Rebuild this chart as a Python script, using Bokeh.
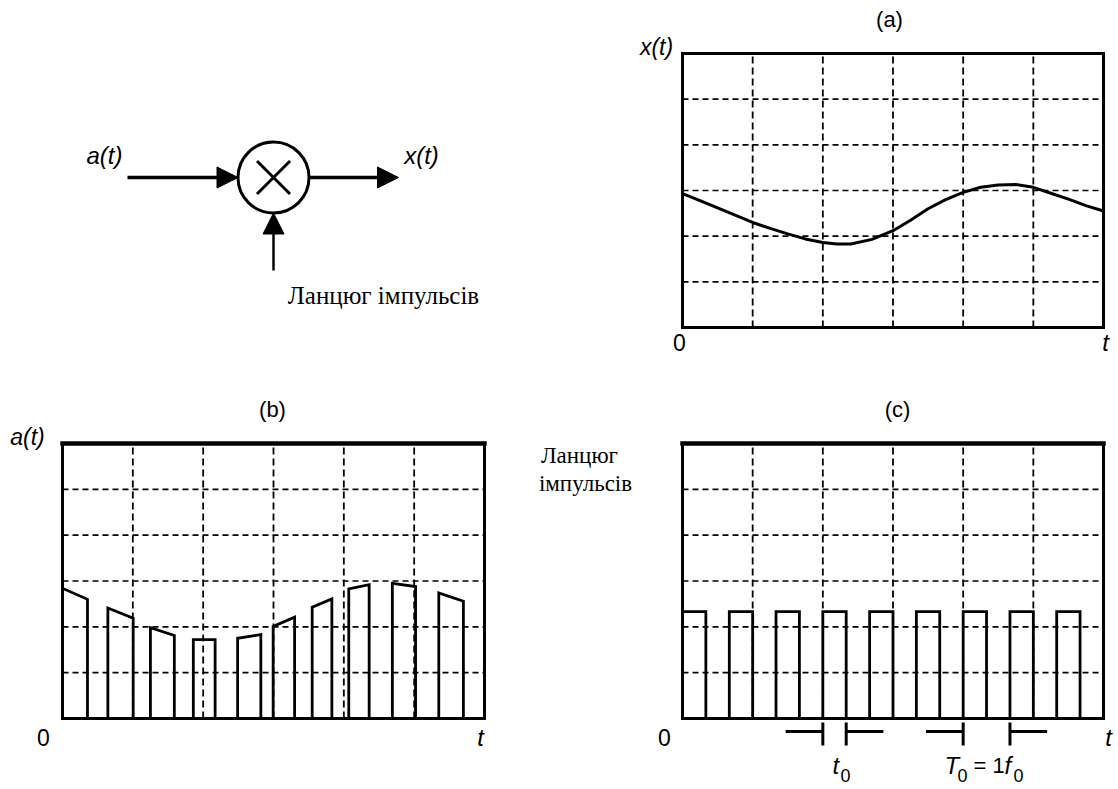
from bokeh.plotting import figure
from bokeh.layouts import row, column
from bokeh.models import Range1d, Arrow, NormalHead
from bokeh.core.properties import value
from bokeh.embed import file_html
from bokeh.resources import INLINE

# ---------------- data ----------------
grid_lines = [1, 2, 3, 4, 5]   # dashed grid positions, in grid units
axis_max = 6                   # every panel spans 6 x 6 grid units

# (a) continuous signal x(t)
a_t = [0, 0.25, 0.5, 0.75, 1, 1.25, 1.5, 1.75, 2, 2.2, 2.4, 2.7, 3, 3.25, 3.5,
       3.75, 4, 4.25, 4.5, 4.75, 5, 5.25, 5.5, 5.75, 6]
a_x = [2.93, 2.78, 2.62, 2.46, 2.30, 2.17, 2.05, 1.94, 1.86, 1.83, 1.83, 1.93,
       2.12, 2.35, 2.60, 2.80, 2.96, 3.07, 3.12, 3.13, 3.07, 2.94, 2.81, 2.67, 2.55]

# (b) sampled signal a(t): pulse edges and top values at both edges
b_start = [0, 0.645, 1.25, 1.86, 2.49, 2.995, 3.55, 4.07, 4.69, 5.35]
b_end = [0.355, 1.005, 1.59, 2.17, 2.82, 3.30, 3.83, 4.36, 5.02, 5.70]
b_top_start = [2.84, 2.41, 1.98, 1.72, 1.75, 2.01, 2.43, 2.83, 2.95, 2.74]
b_top_end = [2.60, 2.19, 1.81, 1.72, 1.83, 2.21, 2.61, 2.92, 2.88, 2.56]

# (c) pulse train
c_start = [0, 0.667, 1.333, 2.0, 2.667, 3.333, 4.0, 4.667, 5.333]
c_width = 0.333
c_height = 2.33

# markers for t0 (pulse width) and T0 = 1/f0 (period), in grid units
mark_t0 = [2.0, 2.333]
mark_T0 = [4.0, 4.667]
mark_arm = 0.53

# ---------------- layout (pixels of the 1118 x 789 page) ----------------
W_L, W_R = 520, 598
H_T, H_B = 390, 399
FRAME_A = (682, 53, 1103, 327)
FRAME_B = (62, 443, 484, 718)
FRAME_C = (682, 443, 1103, 718)

SANS = value("Liberation Sans")
SERIF = value("Liberation Serif")


def make_panel(frame, origin, size):
    l, t, r, b = frame
    ox, oy = origin
    w, h = size
    ux = (r - l) / axis_max
    uy = (b - t) / axis_max
    xr = Range1d((ox - l) / ux, (ox + w - l) / ux)
    yr = Range1d((b - (oy + h)) / uy, (b - oy) / uy)
    p = figure(width=w, height=h, x_range=xr, y_range=yr,
               x_axis_type=None, y_axis_type=None, toolbar_location=None,
               output_backend="svg", min_border=0, outline_line_color=None,
               background_fill_color="white", border_fill_color="white")

    def conv(px, py):
        return (px - l) / ux, (b - py) / uy
    return p, conv


def draw_grid(p):
    n = len(grid_lines)
    p.segment(x0=grid_lines, y0=[0] * n, x1=grid_lines, y1=[axis_max] * n,
              line_color="black", line_width=1.8, line_dash="7 4")
    p.segment(x0=[0] * n, y0=grid_lines, x1=[axis_max] * n, y1=grid_lines,
              line_color="black", line_width=1.7, line_dash="6 4")


def draw_frame(p, top_width):
    p.line(x=[0, 0, axis_max, axis_max], y=[axis_max, 0, 0, axis_max],
           line_color="black", line_width=3, line_join="miter")
    p.line(x=[0, axis_max], y=[axis_max, axis_max], line_color="black",
           line_width=top_width, line_cap="square")


def label(p, conv, px, py, txt, size="22px", style="normal", font=SANS,
          align="center"):
    x, y = conv(px, py)
    p.text(x=[x], y=[y], text=[txt], text_font=font, text_font_size=size,
           text_font_style=style, text_align=align, text_baseline="middle",
           text_color="black")


# ---------------- block diagram ----------------
diag = figure(width=W_L, height=H_T, x_range=Range1d(0, W_L),
              y_range=Range1d(H_T, 0), x_axis_type=None, y_axis_type=None,
              toolbar_location=None, output_backend="svg", min_border=0,
              outline_line_color=None)
node_x, node_y, node_r = 273, 177, 35.5
cross = 16.5
diag.circle(x=[node_x], y=[node_y], radius=node_r, fill_color=None,
            line_color="black", line_width=3)
diag.segment(x0=[node_x - cross, node_x - cross], y0=[node_y - cross, node_y + cross],
             x1=[node_x + cross, node_x + cross], y1=[node_y + cross, node_y - cross],
             line_color="black", line_width=3)
for (xs, ys, xe, ye, lw) in [(127, node_y, node_x - node_r, node_y, 3.5),
                             (node_x + node_r, node_y, 398, node_y, 3.5),
                             (node_x, 270, node_x, node_y + node_r, 2.5)]:
    diag.add_layout(Arrow(end=NormalHead(size=21, fill_color="black",
                                         line_color="black", line_width=1),
                          x_start=xs, y_start=ys, x_end=xe, y_end=ye,
                          line_color="black", line_width=lw))
diag.text(x=[104, 421], y=[155, 155], text=["a(t)", "x(t)"], text_font=SANS,
          text_font_size="24px", text_font_style="italic", text_align="center",
          text_baseline="middle")
diag.text(x=[383], y=[295], text=["Ланцюг імпульсів"], text_font=SERIF,
          text_font_size="25px", text_align="center", text_baseline="middle")

# ---------------- (a) x(t) ----------------
pa, ca = make_panel(FRAME_A, (W_L, 0), (W_R, H_T))
draw_grid(pa)
draw_frame(pa, 3)
pa.line(x=a_t, y=a_x, line_color="black", line_width=3)
label(pa, ca, 889, 19, "(a)")
label(pa, ca, 656, 46, "x(t)", size="23px", style="italic")
label(pa, ca, 679, 342, "0", size="23px")
label(pa, ca, 1105, 342, "t", size="24px", style="italic")

# ---------------- (b) a(t) ----------------
pb, cb = make_panel(FRAME_B, (0, H_T), (W_L, H_B))
draw_grid(pb)
pb.multi_line(xs=[[s, s, e, e] for s, e in zip(b_start, b_end)],
              ys=[[0, ts, te, 0] for ts, te in zip(b_top_start, b_top_end)],
              line_color="black", line_width=2.8, line_join="miter")
draw_frame(pb, 4.5)
label(pb, cb, 272, 409, "(b)")
label(pb, cb, 27, 436, "a(t)", size="23px", style="italic")
label(pb, cb, 43, 737, "0", size="23px")
label(pb, cb, 480, 737, "t", size="24px", style="italic")

# ---------------- (c) pulse train ----------------
pc, cc = make_panel(FRAME_C, (W_L, H_T), (W_R, H_B))
draw_grid(pc)
pc.multi_line(xs=[[s, s, s + c_width, s + c_width] for s in c_start],
              ys=[[0, c_height, c_height, 0] for _ in c_start],
              line_color="black", line_width=2.8, line_join="miter")
draw_frame(pc, 4.5)
label(pc, cc, 897, 409, "(c)")
label(pc, cc, 579, 455, "Ланцюг", size="23px", font=SERIF)
label(pc, cc, 585, 483, "імпульсів", size="23px", font=SERIF)
label(pc, cc, 664, 737, "0", size="23px")
label(pc, cc, 1108, 737, "t", size="24px", style="italic")

_, y_mid = cc(0, 731)
_, y_lo = cc(0, 745)
_, y_hi = cc(0, 722)
arm_x0, arm_x1, tick_x = [], [], []
for left, right in (mark_t0, mark_T0):
    arm_x0 += [left - mark_arm, right]
    arm_x1 += [left, right + mark_arm]
    tick_x += [left, right]
pc.segment(x0=arm_x0, y0=[y_mid] * 4, x1=arm_x1, y1=[y_mid] * 4,
           line_color="black", line_width=3)
pc.segment(x0=tick_x, y0=[y_lo] * 4, x1=tick_x, y1=[y_hi] * 4,
           line_color="black", line_width=3)

# t0 label
label(pc, cc, 832, 765, "t", size="24px", style="italic", align="left")
label(pc, cc, 840, 775, "0", size="18px", align="left")
# T0 = 1f0 label
label(pc, cc, 944, 765, "T", size="24px", style="italic", align="left")
label(pc, cc, 957, 775, "0", size="18px", align="left")
label(pc, cc, 973, 765, "= 1", size="22px", align="left")
label(pc, cc, 1004, 765, "f", size="24px", style="italic", align="left")
label(pc, cc, 1013, 775, "0", size="18px", align="left")

layout = column(row(diag, pa), row(pb, pc))
open("out.html", "w").write(file_html(layout, INLINE))
